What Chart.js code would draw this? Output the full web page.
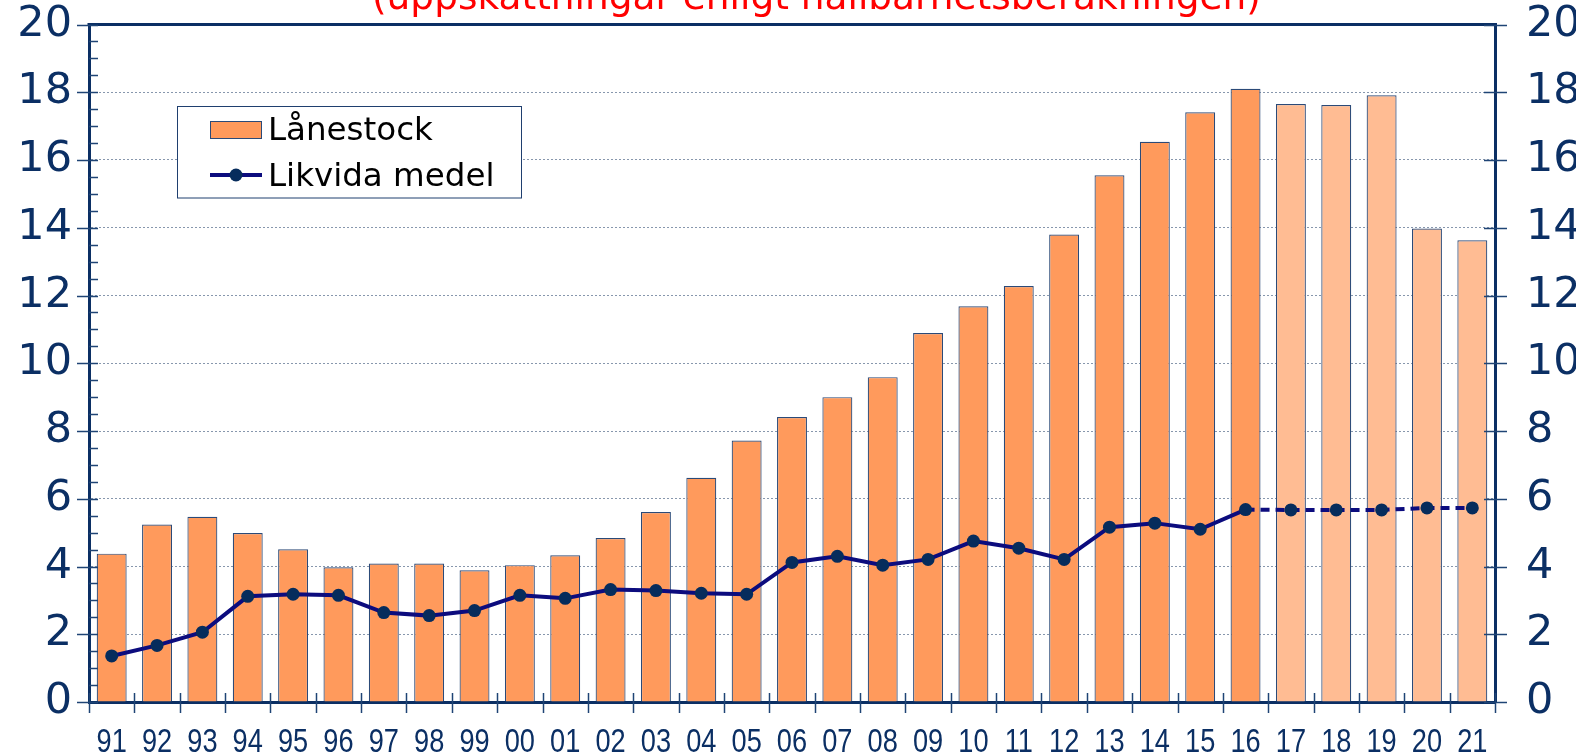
<!DOCTYPE html>
<html><head><meta charset="utf-8">
<script src="https://cdn.jsdelivr.net/npm/chart.js@4.4.1/dist/chart.umd.min.js"></script>
<style>html,body{margin:0;padding:0;background:#fff;overflow:hidden}#wrap{width:1576px;height:755px;position:relative}</style>
</head><body><div id="wrap"><canvas id="c" width="1576" height="755"></canvas></div>
<script>
const categories = ['91','92','93','94','95','96','97','98','99','00','01','02','03','04','05','06','07','08','09','10','11','12','13','14','15','16','17','18','19','20','21'];
const lanestock = [4.38,5.24,5.47,4.99,4.51,3.98,4.09,4.09,3.89,4.04,4.33,4.84,5.61,6.62,7.72,8.41,9.00,9.59,10.89,11.68,12.28,13.80,15.55,16.54,17.41,18.10,17.65,17.62,17.91,13.98,13.63];
const likvida = [1.36,1.67,2.06,3.12,3.18,3.15,2.64,2.55,2.70,3.15,3.06,3.32,3.29,3.21,3.18,4.12,4.30,4.04,4.21,4.75,4.54,4.21,5.16,5.28,5.10,5.68,5.67,5.67,5.67,5.73,5.73];
const forecastCategories = ['17','18','19','20','21'];
const yTickValues = [0,2,4,6,8,10,12,14,16,18,20];
const seriesLabels = ['Lånestock','Likvida medel'];
const titleText = '(uppskattningar enligt hållbarhetsberäkningen)';

const NAVY = '#0b2f64';
const TICKC = '#1f4475';
const BAR = '#ff9a5c';
const BAR_LIGHT = '#ffbc93';
const LINE = '#0c0c7e';
const POINT = '#062c5c';

const barColors = categories.map(c => forecastCategories.includes(c) ? BAR_LIGHT : BAR);
const lastActualIdx = categories.indexOf(forecastCategories[0]) - 1;

const decor = {
  id: 'decor',
  afterDraw(chart) {
    const ctx = chart.ctx;
    const ca = chart.chartArea;
    const y = chart.scales.y, x = chart.scales.x;
    ctx.save();
    // top frame line
    ctx.strokeStyle = NAVY; ctx.lineWidth = 3;
    ctx.beginPath(); ctx.moveTo(ca.left - 1.5, ca.top); ctx.lineTo(ca.right + 1.5, ca.top); ctx.stroke();
    // y ticks
    ctx.strokeStyle = TICKC; ctx.lineWidth = 1.5;
    yTickValues.forEach(v => {
      const py = Math.round(y.getPixelForValue(v)) + 0.5;
      ctx.beginPath(); ctx.moveTo(ca.left - 12, py); ctx.lineTo(ca.left + 9, py); ctx.stroke();
      ctx.beginPath(); ctx.moveTo(ca.right - 11, py); ctx.lineTo(ca.right + 12, py); ctx.stroke();
    });
    for (let i = 0; i < yTickValues.length - 1; i++) {
      const step = (yTickValues[i+1] - yTickValues[i]) / 4;
      for (let k = 1; k < 4; k++) {
        const py = Math.round(y.getPixelForValue(yTickValues[i] + step * k)) + 0.5;
        ctx.beginPath(); ctx.moveTo(ca.left, py); ctx.lineTo(ca.left + 9, py); ctx.stroke();
      }
    }
    // bottom ticks at category boundaries
    const n = categories.length;
    const w = (x.right - x.left) / n;
    for (let i = 0; i <= n; i++) {
      const px = Math.round(x.left + w * i) + 0.5;
      ctx.beginPath(); ctx.moveTo(px, ca.bottom - 9); ctx.lineTo(px, ca.bottom + 11); ctx.stroke();
    }
    // x category labels (narrow face)
    ctx.fillStyle = NAVY;
    ctx.font = '34px "Liberation Sans"';
    ctx.textAlign = 'center';
    ctx.textBaseline = 'alphabetic';
    x.ticks.forEach((t, i) => {
      const px = x.getPixelForTick(i);
      ctx.save();
      ctx.translate(px, 752);
      ctx.scale(0.8, 1);
      ctx.fillText(x.getLabelForValue(t.value), 0, 0);
      ctx.restore();
    });
    // title (clipped at top)
    ctx.fillStyle = '#ff0000';
    ctx.textAlign = 'left';
    let fs = 30;
    ctx.font = fs + 'px "DejaVu Sans"';
    const mw = ctx.measureText(titleText).width;
    fs = fs * 889 / mw;
    ctx.font = fs.toFixed(2) + 'px "DejaVu Sans"';
    ctx.fillText(titleText, 372, 9);
    // legend
    const bx = 177.5, by = 106.5, bw = 344, bh = 91.5;
    ctx.fillStyle = '#fff'; ctx.fillRect(bx, by, bw, bh);
    ctx.strokeStyle = '#1f3f6f'; ctx.lineWidth = 1;
    ctx.strokeRect(bx, by, bw, bh);
    const dsBar = chart.data.datasets[1], dsLine = chart.data.datasets[0];
    ctx.fillStyle = BAR; ctx.fillRect(210, 121, 52, 18);
    ctx.strokeStyle = '#2b4a78'; ctx.lineWidth = 1; ctx.strokeRect(210.5, 121.5, 51, 17);
    ctx.strokeStyle = LINE; ctx.lineWidth = 4;
    ctx.beginPath(); ctx.moveTo(210, 175); ctx.lineTo(262, 175); ctx.stroke();
    ctx.fillStyle = POINT; ctx.beginPath(); ctx.arc(236, 175, 6.5, 0, Math.PI*2); ctx.fill();
    ctx.fillStyle = '#000';
    ctx.font = '32.5px "DejaVu Sans"';
    ctx.textBaseline = 'middle';
    ctx.fillText(dsBar.label, 268, 132);
    ctx.fillText(dsLine.label, 268, 178);
    ctx.restore();
  }
};

const noPad = s => { s.paddingTop = 0; s.paddingBottom = 0; s.paddingLeft = 0; s.paddingRight = 0; };

new Chart(document.getElementById('c'), {
  data: {
    labels: categories,
    datasets: [
      {
        type: 'line', label: seriesLabels[1], data: likvida, order: 0,
        borderColor: LINE, borderWidth: 4, tension: 0,
        pointRadius: 6.5, pointBackgroundColor: POINT, pointBorderWidth: 0, pointHoverRadius: 6.5,
        segment: { borderDash: c => c.p0DataIndex >= lastActualIdx ? [9, 6] : undefined }
      },
      {
        type: 'bar', label: seriesLabels[0], data: lanestock, order: 1,
        backgroundColor: barColors, borderColor: '#2b4a78', borderWidth: 1.2,
        barPercentage: 0.66, categoryPercentage: 1.0
      }
    ]
  },
  options: {
    responsive: false, animation: false, devicePixelRatio: 1,
    layout: { padding: { top: 24.5, left: 0, right: 0, bottom: 0 } },
    plugins: { legend: { display: false }, title: { display: false }, tooltip: { enabled: false } },
    scales: {
      x: {
        offset: true,
        grid: { display: false, drawTicks: false },
        border: { display: true, color: NAVY, width: 3 },
        ticks: { display: false, autoSkip: false, maxRotation: 0 },
        afterFit: s => { s.height = 53; noPad(s); }
      },
      y: {
        position: 'left', min: 0, max: 20,
        grid: { color: '#8797ad', lineWidth: 1, drawTicks: false },
        border: { display: true, color: NAVY, width: 3, dash: [2, 2] },
        ticks: { stepSize: 2, color: NAVY, padding: 17, font: { family: '"DejaVu Sans"', size: 43 } },
        afterFit: s => { s.width = 89; noPad(s); }
      },
      y2: {
        position: 'right', min: 0, max: 20,
        grid: { drawOnChartArea: false, drawTicks: false },
        border: { display: true, color: NAVY, width: 3 },
        ticks: { stepSize: 2, color: NAVY, padding: 31, font: { family: '"DejaVu Sans"', size: 43 } },
        afterFit: s => { s.width = 81; noPad(s); }
      }
    }
  },
  plugins: [decor]
});
</script></body></html>
